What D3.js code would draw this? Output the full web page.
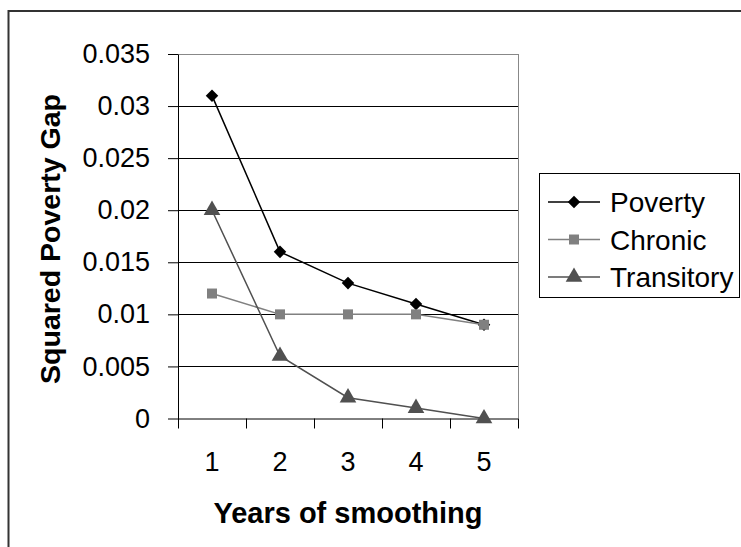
<!DOCTYPE html>
<html>
<head>
<meta charset="utf-8">
<script src="https://cdn.jsdelivr.net/npm/d3@7"></script>
<style>
  body { margin: 0; background: #fff; }
  svg { display: block; font-family: Arial, "Liberation Sans", sans-serif; }
</style>
</head>
<body>
<svg id="chart"></svg>
<script>
// chart data
var years = [1, 2, 3, 4, 5];
var poverty = [0.031, 0.016, 0.013, 0.011, 0.009];
var chronic = [0.012, 0.010, 0.010, 0.010, 0.009];
var transitory = [0.020, 0.006, 0.002, 0.001, 0.000];
var yTicks = [0, 0.005, 0.01, 0.015, 0.02, 0.025, 0.03, 0.035];
var seriesNames = ["Poverty", "Chronic", "Transitory"];

var W = 741, H = 547;
var margin = {top: 54, left: 178, right: 223, bottom: 128.5};
var w = W - margin.left - margin.right,
    h = H - margin.top - margin.bottom;

var svg = d3.select("#chart").attr("width", W).attr("height", H);

// outer chart border (runs off the right and bottom edges)
svg.append("rect")
    .attr("x", 8.5).attr("y", 11)
    .attr("width", W).attr("height", H)
    .attr("fill", "none").attr("stroke", "#333").attr("stroke-width", 2);

var g = svg.append("g")
    .attr("transform", "translate(" + margin.left + "," + margin.top + ")");

var xScale = d3.scaleBand().domain(years).range([0, w]);
var yScale = d3.scaleLinear().domain([0, 0.035]).range([h, 0]);

// gridlines
g.selectAll(".grid").data(yTicks.filter(function(t) { return t > 0; }))
    .enter().append("line")
    .attr("x1", 0).attr("x2", w)
    .attr("y1", function(d) { return Math.round(yScale(d)) + 0.5; })
    .attr("y2", function(d) { return Math.round(yScale(d)) + 0.5; })
    .attr("stroke", function(d) { return d === 0.035 ? "#888" : "#000"; })
    .attr("stroke-width", 1);

// right plot border
g.append("line")
    .attr("x1", w + 0.5).attr("x2", w + 0.5)
    .attr("y1", 0).attr("y2", h)
    .attr("stroke", "#888");

// y axis
var yAxis = d3.axisLeft(yScale)
    .tickValues(yTicks)
    .tickFormat(function(d) { return d === 0 ? "0" : String(+d.toFixed(3)); })
    .tickSize(10).tickPadding(18).tickSizeOuter(0);
var yg = g.append("g").call(yAxis);
yg.select(".domain").attr("stroke", "#000");
yg.selectAll(".tick line").attr("stroke", "#000");
yg.selectAll(".tick text").style("font-size", "27px").attr("fill", "#000");

// x axis: ticks at category boundaries
var xg = g.append("g").attr("transform", "translate(0," + h + ")");
xg.append("line").attr("x1", 0).attr("x2", w).attr("y1", 0.5).attr("y2", 0.5).attr("stroke", "#000");
var bounds = years.map(function(d) { return xScale(d); }).concat([w]);
xg.selectAll(".xt").data(bounds).enter().append("line")
    .attr("x1", function(d) { return Math.round(d) + 0.5; })
    .attr("x2", function(d) { return Math.round(d) + 0.5; })
    .attr("y1", 0).attr("y2", 10)
    .attr("stroke", "#000");
xg.selectAll(".xl").data(years).enter().append("text")
    .attr("x", function(d) { return xScale(d) + xScale.bandwidth() / 2; })
    .attr("y", 52)
    .attr("text-anchor", "middle")
    .style("font-size", "27px")
    .text(function(d) { return d; });

// axis titles
svg.append("text")
    .attr("x", margin.left + w / 2)
    .attr("y", 523)
    .attr("text-anchor", "middle")
    .attr("font-weight", "bold")
    .style("font-size", "29px")
    .text("Years of smoothing");

svg.append("text")
    .attr("transform", "translate(60,239) rotate(-90)")
    .attr("text-anchor", "middle")
    .attr("font-weight", "bold")
    .style("font-size", "28.5px")
    .text("Squared Poverty Gap");

// series
var series = [
    {name: seriesNames[0], values: poverty, color: "#000", marker: "diamond"},
    {name: seriesNames[1], values: chronic, color: "#808080", marker: "square"},
    {name: seriesNames[2], values: transitory, color: "#505050", marker: "triangle"}
];

var cx = function(i) { return xScale(years[i]) + xScale.bandwidth() / 2; };
var line = d3.line()
    .x(function(d, i) { return cx(i); })
    .y(function(d) { return yScale(d); });

function markerPath(type) {
    if (type === "diamond") return d3.symbol().type(d3.symbolDiamond2).size(100)();
    if (type === "square") return d3.symbol().type(d3.symbolSquare).size(100)();
    return d3.symbol().type(d3.symbolTriangle).size(120)();
}

series.forEach(function(s) {
    g.append("path")
        .datum(s.values)
        .attr("fill", "none")
        .attr("stroke", s.color)
        .attr("stroke-width", 1.5)
        .attr("d", line);
    g.selectAll(null).data(s.values).enter().append("path")
        .attr("transform", function(d, i) { return "translate(" + cx(i) + "," + yScale(d) + ")"; })
        .attr("d", markerPath(s.marker))
        .attr("fill", s.color);
});

// legend
var lg = svg.append("g");
lg.append("rect")
    .attr("x", 539.5).attr("y", 173.5)
    .attr("width", 200).attr("height", 124)
    .attr("fill", "#fff").attr("stroke", "#000").attr("stroke-width", 1);
series.forEach(function(s, i) {
    var y = 202 + i * 37.5;
    lg.append("line")
        .attr("x1", 548).attr("x2", 600).attr("y1", y).attr("y2", y)
        .attr("stroke", s.color).attr("stroke-width", 1.5);
    lg.append("path")
        .attr("transform", "translate(574," + y + ")")
        .attr("d", markerPath(s.marker))
        .attr("fill", s.color);
    lg.append("text")
        .attr("x", 610).attr("y", y + 10)
        .style("font-size", "28px")
        .text(s.name);
});
</script>
</body>
</html>
